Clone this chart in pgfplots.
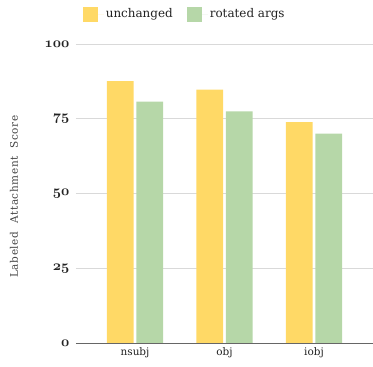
\documentclass[border=0pt]{standalone}
\usepackage{pgfplots}
\pgfplotsset{compat=1.18}
\usepackage{fontspec}
\setmainfont{DejaVu Serif}
\newfontfamily\spacedfont[LetterSpace=6]{DejaVu Serif}
\definecolor{cyel}{HTML}{FFD966}
\definecolor{cgrn}{HTML}{B6D7A8}
\definecolor{cgrid}{HTML}{D9D9D9}
\definecolor{ctxt}{HTML}{222222}
\begin{document}
\begin{tikzpicture}
\useasboundingbox (-76bp,-24bp) rectangle (297bp,343bp);
\begin{axis}[
  at={(0,0)}, anchor=south west,
  scale only axis, width=297bp, height=299bp,
  xmin=-0.66, xmax=2.66, ymin=0, ymax=100,
  axis lines=left, axis line style={draw=none},
  ytick={0,25,50,75,100},
  yticklabels={$\mathnormal{0}$,$\mathnormal{25}$,$\mathnormal{50}$,$\mathnormal{75}$,$\mathnormal{100}$},
  yticklabel style={font=\fontsize{14.5}{14}\selectfont\boldmath, text=ctxt, xshift=-3bp},
  ymajorgrids, grid style={cgrid, line width=0.8bp},
  xtick={0,1,2}, xticklabels={nsubj,obj,iobj},
  xticklabel style={font=\fontsize{10.5}{12}\selectfont, text=ctxt, yshift=-1bp},
  major tick length=0pt,
  ylabel={Labeled\ \ Attachment\ \ Score},
  every axis y label/.style={at={(axis description cs:-0.209,0.49)}, rotate=90, anchor=center,
     font=\spacedfont\fontsize{10.5}{11}\selectfont, text=ctxt!85},
  ybar, bar width=0.30,
  legend style={at={(0.366,1.10)}, anchor=center, draw=none, legend columns=2,
     font=\fontsize{12}{13}\selectfont, text=ctxt,
     /tikz/every even column/.append style={column sep=12bp},
     legend cell align=left},
  legend image code/.code={\fill[#1] (0bp,-7.5bp) rectangle (15bp,7.5bp); \path (0bp,0bp) -- (21bp,0bp);},
  clip=false,
]
\addplot[fill=cyel, draw=none, bar shift=-0.165] coordinates {(0,87.6) (1,84.7) (2,73.9)};
\addplot[fill=cgrn, draw=none, bar shift=0.165] coordinates {(0,80.7) (1,77.5) (2,70.0)};
\draw[color=black!60, line width=1bp] (axis cs:-0.66,0) -- (axis cs:2.66,0);
\legend{unchanged, rotated args}
\end{axis}
\end{tikzpicture}
\end{document}
